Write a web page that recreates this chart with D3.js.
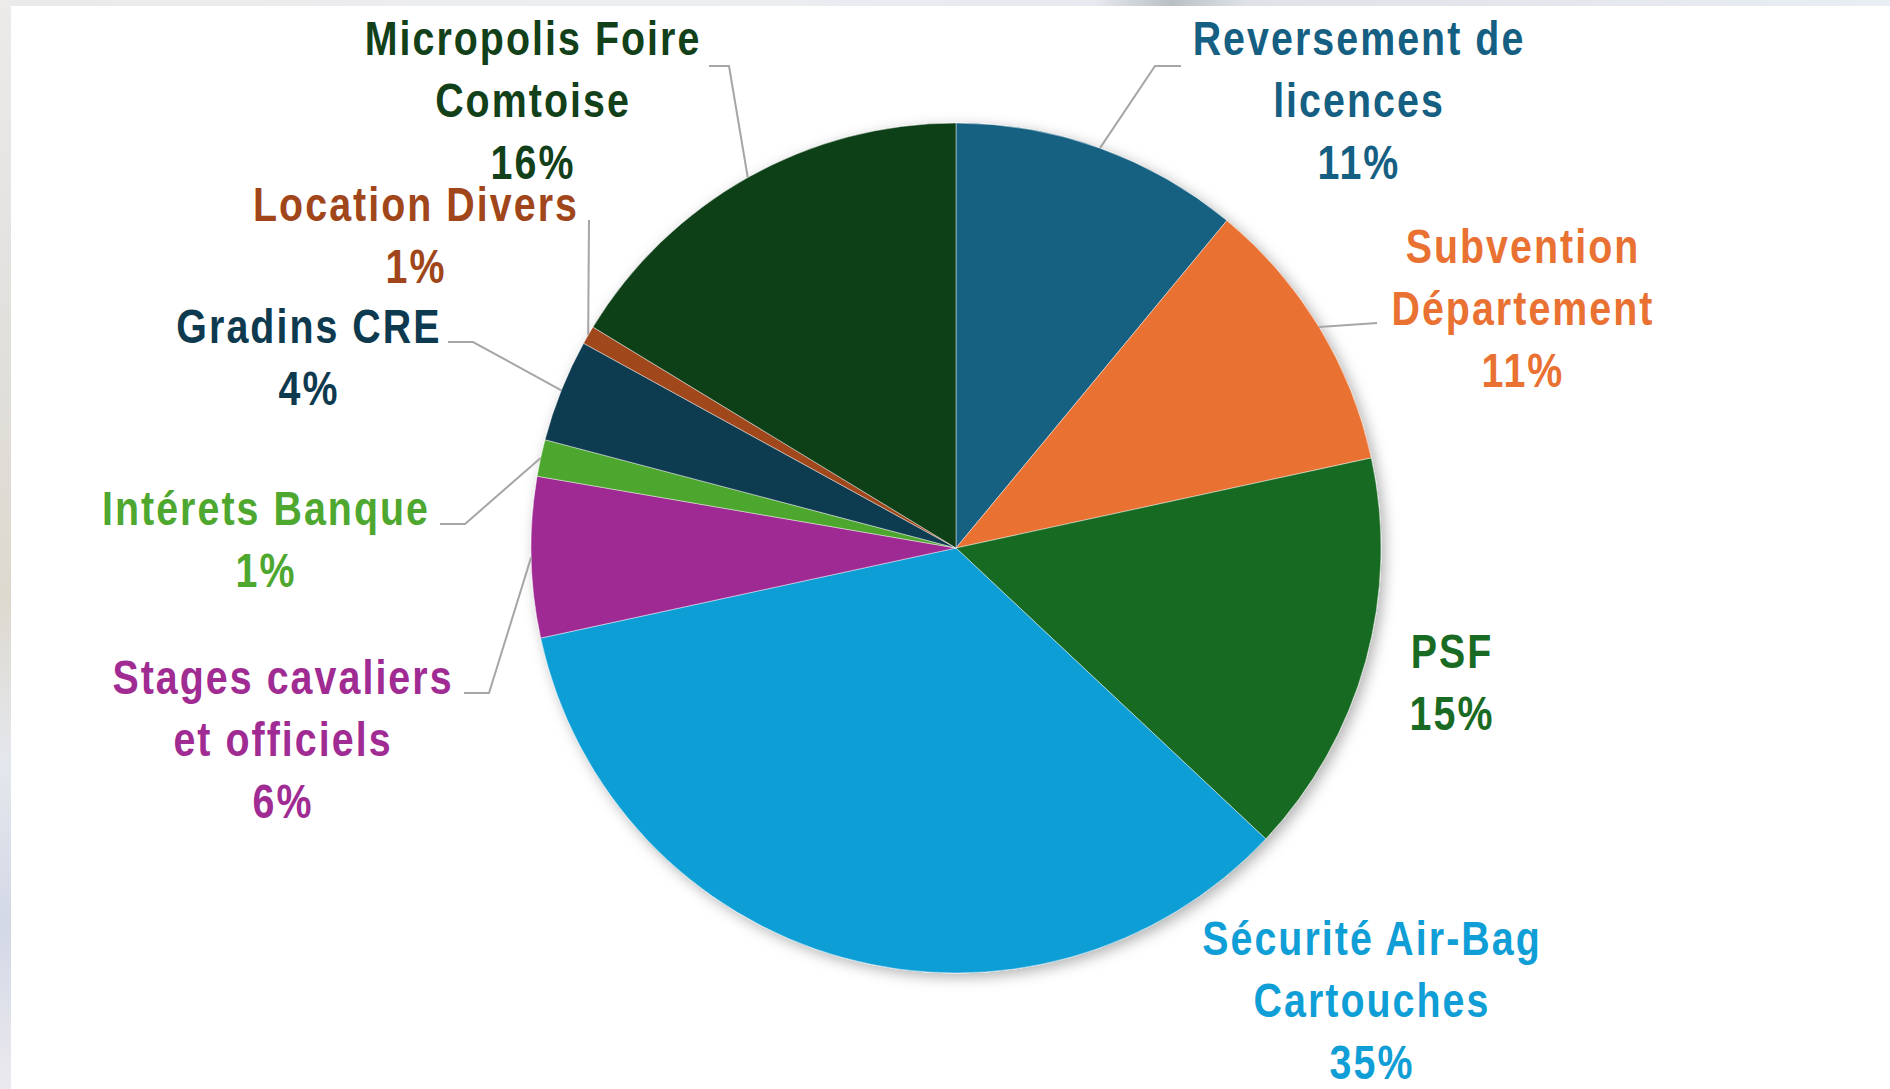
<!DOCTYPE html>
<html>
<head>
<meta charset="utf-8">
<script src="https://cdn.jsdelivr.net/npm/d3@7"></script>
<style>
  body { margin: 0; background: #fff; overflow: hidden; }
  svg text {
    font-family: "Liberation Sans", Arial, sans-serif;
    font-weight: bold;
  }
</style>
</head>
<body>
<script>
// categories, in clockwise order from 12 o'clock
var categories = [
  "Reversement de licences",
  "Subvention Département",
  "PSF",
  "Sécurité Air-Bag Cartouches",
  "Stages cavaliers et officiels",
  "Intérets Banque",
  "Gradins CRE",
  "Location Divers",
  "Micropolis Foire Comtoise"
];

// share of the total (%)
var values = [11.0, 10.6, 15.4, 34.6, 6.1, 1.4, 3.9, 0.7, 16.3];

// how each label is broken over lines (percentage line is added after)
var labelLines = [
  ["Reversement de", "licences"],
  ["Subvention", "Département"],
  ["PSF"],
  ["Sécurité Air-Bag", "Cartouches"],
  ["Stages cavaliers", "et officiels"],
  ["Intérets Banque"],
  ["Gradins CRE"],
  ["Location Divers"],
  ["Micropolis Foire", "Comtoise"]
];

var colours = ["#156082", "#e97132", "#196b24", "#0f9ed5", "#a02b93",
               "#4ea72e", "#0e3a4f", "#a0461a", "#114019"];

// ---- layout (not data) ----
var width = 1890, height = 1089;
var cx = 956, cy = 548, radius = 425;
var lineH = 62;
var narrow = 0.82;   // no narrow font installed, so squeeze the bold sans

// label centre x / first baseline y
var labelPos = [
  [1359, 55], [1523, 263], [1452, 668], [1372, 955], [283, 694],
  [266, 525], [309, 343], [416, 221], [533, 55]
];
// leader line: elbow point and end point next to the text (null = no leader)
var leaders = [
  [[1155, 66], [1181, 66]],
  [[1377, 323], [1377, 323]],
  null,
  null,
  [[489, 693], [464, 693]],
  [[465, 524], [440, 524]],
  [[473, 342], [448, 342]],
  [[589, 220], [589, 220]],
  [[729, 66], [709, 66]]
];

var svg = d3.select("body").append("svg")
  .attr("width", width)
  .attr("height", height);

var defs = svg.append("defs");

// soft shadow round the pie
var shadow = defs.append("filter")
  .attr("id", "pieShadow")
  .attr("x", "-20%").attr("y", "-20%")
  .attr("width", "140%").attr("height", "140%");
shadow.append("feDropShadow")
  .attr("dx", 4).attr("dy", 4)
  .attr("stdDeviation", 7)
  .attr("flood-color", "#000")
  .attr("flood-opacity", 0.3);

// left / top blurred strips of the photographed page
var leftGrad = defs.append("linearGradient")
  .attr("id", "leftGrad").attr("x1", 0).attr("y1", 0).attr("x2", 0).attr("y2", 1);
[["0", "#ecebea"], ["0.3", "#e2e0dd"], ["0.55", "#ddd9cf"], ["0.7", "#e4e7ec"],
 ["0.85", "#d3d8e6"], ["1", "#ebeaee"]].forEach(function(s){
  leftGrad.append("stop").attr("offset", s[0]).attr("stop-color", s[1]);
});
var topGrad = defs.append("linearGradient")
  .attr("id", "topGrad").attr("x1", 0).attr("y1", 0).attr("x2", 1).attr("y2", 0);
[["0", "#ebeaea"], ["0.35", "#eceef1"], ["0.58", "#e6e9ef"], ["0.62", "#b9c0c4"],
 ["0.66", "#dfe3e8"], ["1", "#e9edf4"]].forEach(function(s){
  topGrad.append("stop").attr("offset", s[0]).attr("stop-color", s[1]);
});

svg.append("rect").attr("width", width).attr("height", height).attr("fill", "#fff");
svg.append("rect").attr("x", 0).attr("y", 0).attr("width", width).attr("height", 6)
  .attr("fill", "url(#topGrad)");
svg.append("rect").attr("x", 0).attr("y", 0).attr("width", 11).attr("height", height)
  .attr("fill", "url(#leftGrad)");

var pie = d3.pie().sort(null).value(function(d){ return d; });
var arcs = pie(values);
var arc = d3.arc().innerRadius(0).outerRadius(radius);

var total = d3.sum(values);

var g = svg.append("g")
  .attr("transform", "translate(" + cx + "," + cy + ")");

g.append("g")
  .attr("filter", "url(#pieShadow)")
  .selectAll("path")
  .data(arcs)
  .enter()
  .append("path")
  .attr("d", arc)
  .attr("fill", function(d, i){ return colours[i]; })
  .attr("stroke", "rgba(255,255,255,0.55)")
  .attr("stroke-width", 0.8);

// leader lines from the middle of each slice edge
svg.append("g").selectAll("polyline")
  .data(arcs.filter(function(d, i){ return leaders[i]; }))
  .enter()
  .append("polyline")
  .attr("points", function(d){
    var i = d.index;
    var a = (d.startAngle + d.endAngle) / 2;
    var p0 = [cx + radius * Math.sin(a), cy - radius * Math.cos(a)];
    return [p0, leaders[i][0], leaders[i][1]].map(function(p){ return p.join(","); }).join(" ");
  })
  .attr("fill", "none")
  .attr("stroke", "#a6a6a6")
  .attr("stroke-width", 2);

// labels
var labels = svg.append("g").selectAll("text")
  .data(arcs)
  .enter()
  .append("text")
  .attr("text-anchor", "middle")
  .attr("font-size", 48)
  .attr("letter-spacing", 2.5)
  .attr("transform", function(d, i){
    var x = labelPos[i][0];
    return "translate(" + x + ",0) scale(" + narrow + ",1) translate(" + (-x) + ",0)";
  })
  .attr("fill", function(d, i){ return colours[i]; });

labels.each(function(d, i){
  var t = d3.select(this);
  var lines = labelLines[i].concat([Math.round(d.value / total * 100) + "%"]);
  lines.forEach(function(line, k){
    t.append("tspan")
      .attr("x", labelPos[i][0])
      .attr("y", labelPos[i][1] + k * lineH)
      .text(line);
  });
});
</script>
</body>
</html>
